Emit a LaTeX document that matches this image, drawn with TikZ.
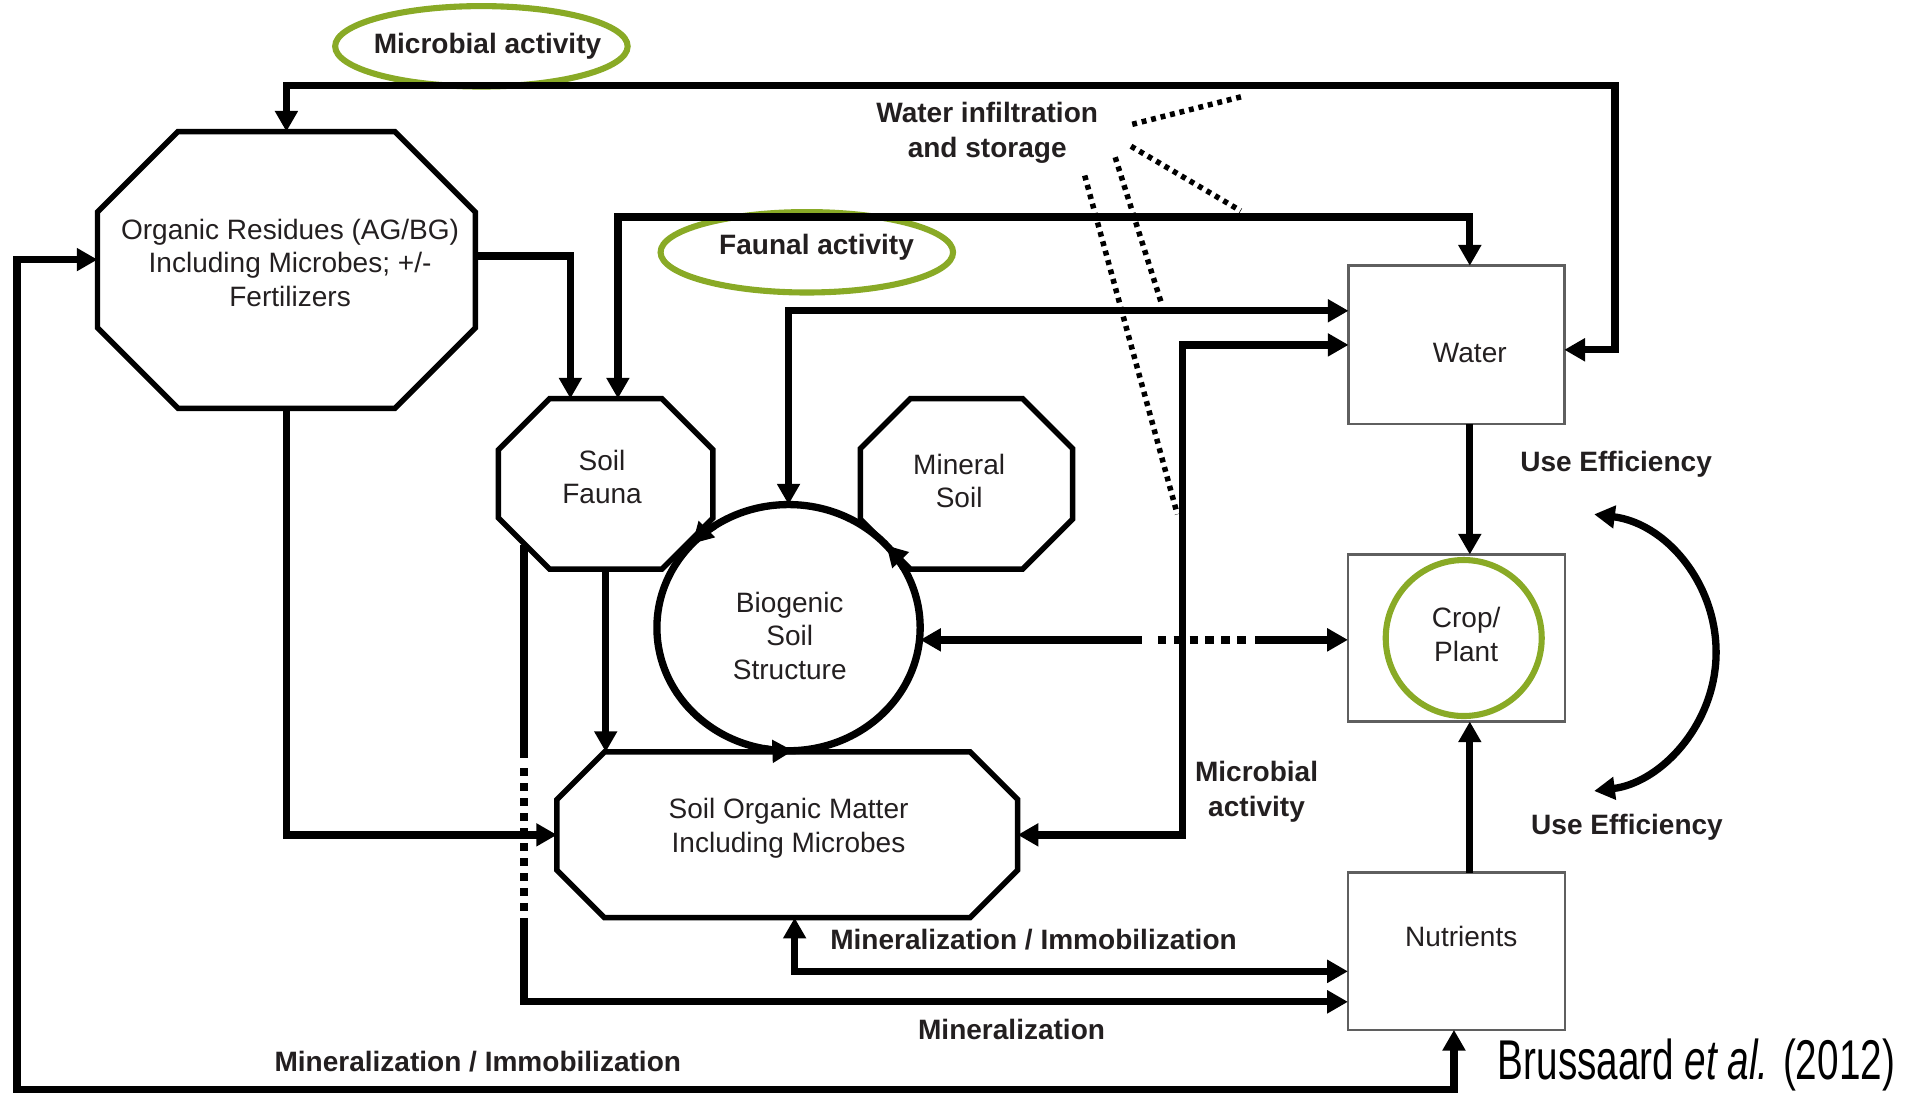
\documentclass[tikz,border=0pt]{standalone}
\usepackage{fontspec}
\setmainfont{Liberation Sans}
\usetikzlibrary{arrows.meta,calc,shapes.geometric}
\definecolor{grn}{RGB}{137,170,38}
\definecolor{ink}{RGB}{35,31,32}
\definecolor{boxgray}{RGB}{95,95,95}
\newcommand{\drawocto}[2]{%
  \draw[octline] ($(#1.north west)+(#2,0)$) -- ($(#1.north east)+(-#2,0)$)
    -- ($(#1.north east)+(0,#2)$) -- ($(#1.south east)+(0,-#2)$)
    -- ($(#1.south east)+(-#2,0)$) -- ($(#1.south west)+(#2,0)$)
    -- ($(#1.south west)+(0,-#2)$) -- ($(#1.north west)+(0,#2)$) -- cycle;}
\begin{document}
\begin{tikzpicture}[x=1pt,y=-1pt,
  >={Triangle[length=17pt,width=18pt]},
  conn/.style={line width=6pt,draw=black},
  octline/.style={line width=4.5pt,draw=black,line join=miter},
  frame/.style={draw=none,inner sep=0pt,outer sep=0pt},
  rectbox/.style={draw=boxgray,line width=2pt,inner sep=0pt,outer sep=0pt},
  body/.style={text=ink,inner sep=0pt,align=center,font=\fontsize{23}{27.5}\selectfont},
  lbl/.style={text=ink,inner sep=0pt,align=center,font=\fontsize{23}{28.5}\selectfont\bfseries},
  ring/.style={draw=grn,line width=5pt,inner sep=0pt,outer sep=0pt},
  dotln/.style={line width=4.5pt,dash pattern=on 4pt off 4pt}]
\useasboundingbox (0,0) rectangle (1568,899);

% ---------- shapes ----------
\node[frame,minimum width=310pt,minimum height=227pt] (OR) at (235,221.5) {};
\drawocto{OR}{66}
\node[body] (ORt) at (238,215.5) {Organic Residues (AG/BG)\\Including Microbes; +/-\\Fertilizers};

\node[frame,minimum width=176pt,minimum height=140pt] (SF) at (497,397) {};
\drawocto{SF}{42}
\node[body] (SFt) at (494,391.5) {Soil\\Fauna};

\node[frame,minimum width=174pt,minimum height=140pt] (MS) at (793,397) {};
\drawocto{MS}{41}
\node[body] (MSt) at (787,394.5) {Mineral\\Soil};

\node[frame,minimum width=378pt,minimum height=136pt] (SOM) at (646,685) {};
\drawocto{SOM}{39}
\node[body] (SOMt) at (647,679.5) {Soil Organic Matter\\Including Microbes};

\node[ellipse,draw,line width=6pt,inner sep=0pt,outer sep=0pt,minimum width=216pt,minimum height=202pt] (BIO) at (647,515) {};
\node[body] (BIOt) at (648,521.5) {Biogenic\\Soil\\Structure};

\node[rectbox,minimum width=177pt,minimum height=130pt] (W) at (1195,283) {};
\node[body] (Wt) at (1206,290) {Water};
\node[rectbox,minimum width=178pt,minimum height=137pt] (CP) at (1195,523.5) {};
\node[body] (CPt) at (1203,520.5) {Crop/\\Plant};
\node[rectbox,minimum width=178pt,minimum height=129pt] (N) at (1195,780.5) {};
\node[body] (Nt) at (1199,768) {Nutrients};

% ---------- green rings ----------
\node[ring,ellipse,minimum width=240pt,minimum height=66pt] (ringMA) at (395,38) {};
\node[ring,ellipse,minimum width=240pt,minimum height=66pt] (ringFA) at (662,207) {};
\node[ring,circle,minimum size=128pt] (ringCP) at (1201,523.5) {};

% ---------- labels ----------
\node[lbl,anchor=base] (lMA) at (400,44) {Microbial activity};
\node[lbl,anchor=base] (lFA) at (670,209) {Faunal activity};
\node[lbl] (lWI) at (810,109) {Water infiltration\\and storage};
\node[lbl,anchor=base] (lUE1) at (1326,387) {Use Efficiency};
\node[lbl,anchor=base] (lUE2) at (1335,685) {Use Efficiency};
\node[lbl] (lMB) at (1031,649.5) {Microbial\\activity};
\node[lbl,anchor=base] (lMI1) at (848,779) {Mineralization / Immobilization};
\node[lbl,anchor=base] (lM) at (830,853) {Mineralization};
\node[lbl,anchor=base] (lMI2) at (392,879) {Mineralization / Immobilization};
\node[anchor=base east,inner sep=0pt,text=black] (cite) at (1555,886)
  {\fontsize{46}{50}\selectfont\scalebox{0.69}[1]{Brussaard \textit{et al.} (2012)}};

% ---------- coordinates ----------
\coordinate (A1) at (1325,70);
\coordinate (Wr) at ($(W.east)+(0,4)$);
\coordinate (B1) at (507,178);
\coordinate (wc) at (1206,0);
\coordinate (C1) at (468,210);
\coordinate (D1) at (647,255);
\coordinate (E1) at (970,283);
\coordinate (F1) at (937,525);
\coordinate (F2) at (1030,525);
\coordinate (I1) at (430,447.5);
\coordinate (I2) at (430,822);
\coordinate (J1) at (652,797);
\coordinate (K1) at (1193,894);
\coordinate (K2) at (14,213);
\coordinate (ue1) at (1308,422);

% ---------- connectors ----------
\draw[conn,<->] (OR.north) -- (OR.north |- A1) -- (A1) -- (A1 |- Wr) -- (Wr);
\draw[conn,<->] (B1 |- SF.north) -- (B1) -- (B1 -| wc) -- (wc |- W.north);
\draw[conn,->] (OR.east |- C1) -- (C1) -- (C1 |- SF.north);
\draw[conn,<->] (BIO.north) -- (D1) -- (D1 -| W.west);
\draw[conn,<->] (SOM.east) -- (SOM.east -| E1) -- (E1) -- (E1 -| W.west);
\draw[conn,->] (F1) -- (BIO.east |- F1);
\draw[conn,dash pattern=on 0pt off 13pt on 7pt off 6pt on 7pt off 6pt on 7pt off 6pt on 7pt off 6pt on 7pt off 6pt on 7pt off 100pt] (F1) -- (F2);
\draw[conn,->] (F2) -- (F2 -| CP.west);
\draw[conn,->] (SF.south) -- (SF.south |- SOM.north);
\draw[conn,->] (OR.south) -- (OR.south |- SOM.west) -- (SOM.west);
\draw[conn,->,dash pattern=on 174.5pt off 8.2pt on 6.6pt off 5.7pt on 6.6pt off 5.7pt on 6.6pt off 5.7pt on 6.6pt off 5.7pt on 6.6pt off 5.7pt on 6.6pt off 5.7pt on 6.6pt off 5.7pt on 6.6pt off 5.7pt on 6.6pt off 5.7pt on 6.6pt off 5.7pt on 1000pt]
  (I1) -- (I2) -- (I2 -| N.west);
\draw[conn,<->] (J1 |- SOM.south) -- (J1) -- (J1 -| N.west);
\draw[conn,<->] (K1 |- N.south) -- (K1) -- (K1 -| K2) -- (K2) -- (K2 -| OR.west);
\draw[conn,->] (wc |- W.south) -- (wc |- CP.north);
\draw[conn,->] (wc |- N.north) -- (wc |- CP.south);
\draw[conn,<->] (ue1) arc[start angle=-82.8,end angle=82.8,radius=114.4];

% arrowheads on the biogenic ring
\draw[line width=6pt,->] (BIO.center) ++(236:108 and 101) arc[start angle=236,end angle=223,x radius=108,y radius=101];
\draw[line width=6pt,->] (BIO.center) ++(331:108 and 101) arc[start angle=331,end angle=318,x radius=108,y radius=101];
\draw[line width=6pt,->] (BIO.center) ++(101:108 and 101) arc[start angle=101,end angle=88,x radius=108,y radius=101];

% ---------- dotted lines (water infiltration) ----------
\coordinate (p1a) at (929,102); \coordinate (p1b) at (1020,79);
\coordinate (p2a) at (928,120); \coordinate (p2b) at (1018,173);
\coordinate (p3a) at (915,129); \coordinate (p3b) at (953,249);
\coordinate (p4a) at (890,144); \coordinate (p4b) at (966,422);
\draw[dotln] (p1a) -- (p1b);
\draw[dotln] (p2a) -- (p2b);
\draw[dotln] (p3a) -- (p3b);
\draw[dotln] (p4a) -- (p4b);
\end{tikzpicture}
\end{document}
